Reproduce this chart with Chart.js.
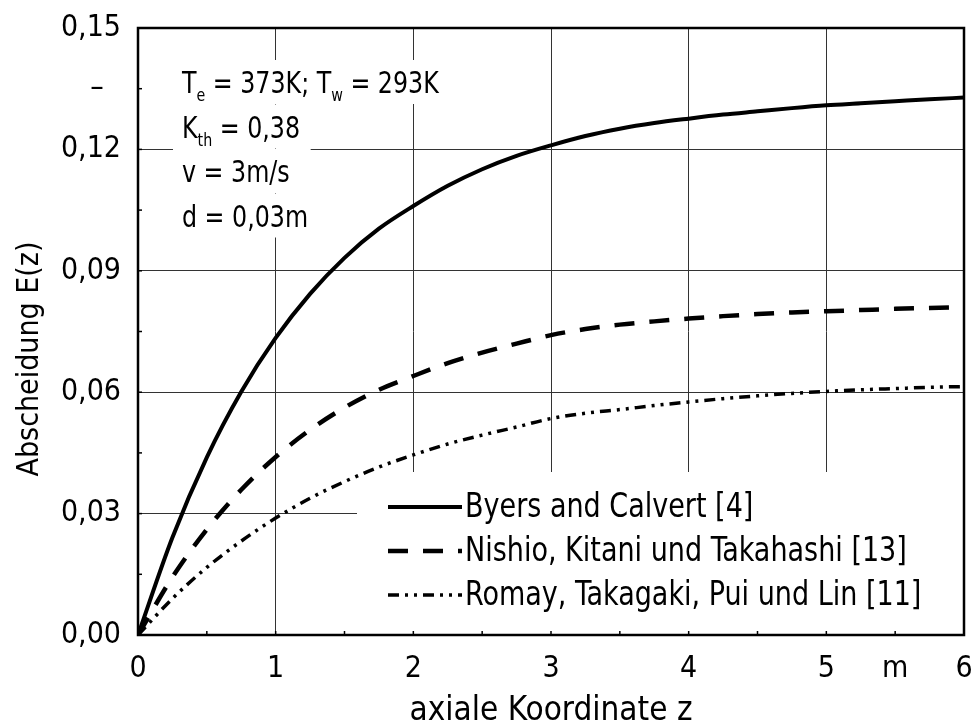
<!DOCTYPE html>
<html lang="de">
<head>
<meta charset="utf-8">
<title>Abscheidung E(z)</title>
<script src="https://cdn.jsdelivr.net/npm/chart.js@4/dist/chart.umd.min.js"></script>
<style>
  html, body { margin: 0; padding: 0; background: #fff; }
  #wrap { width: 975px; height: 728px; }
</style>
</head>
<body>
<div id="wrap"><canvas id="chart" width="975" height="728"></canvas></div>
<script>
// axiale Koordinate z in m
const zValues = [0, 0.25, 0.5, 0.75, 1, 1.25, 1.5, 1.75, 2, 2.25, 2.5, 2.75, 3,
                 3.25, 3.5, 3.75, 4, 4.25, 4.5, 4.75, 5, 5.25, 5.5, 5.75, 6];

// Abscheidung E(z) je Modell
const byersCalvert = [0, 0.0241, 0.0439, 0.0601, 0.0734, 0.0843, 0.0932, 0.1004, 0.1060,
                      0.1110, 0.1151, 0.1184, 0.1210, 0.1233, 0.1251, 0.1265, 0.1276,
                      0.1286, 0.1294, 0.1302, 0.1309, 0.1314, 0.1319, 0.1324, 0.1328];
const nishioKitani = [0, 0.0143, 0.0261, 0.0359, 0.0440, 0.0507, 0.0562, 0.0606, 0.0640,
                      0.0672, 0.0698, 0.0720, 0.0741, 0.0756, 0.0767, 0.0775, 0.0782,
                      0.0788, 0.0793, 0.0797, 0.0800, 0.0803, 0.0806, 0.0808, 0.0810];
const romayTakagaki = [0, 0.0090, 0.0167, 0.0232, 0.0289, 0.0338, 0.0379, 0.0415, 0.0445,
                       0.0472, 0.0494, 0.0514, 0.0535, 0.0548, 0.0557, 0.0567, 0.0576,
                       0.0584, 0.0591, 0.0597, 0.0602, 0.0606, 0.0609, 0.0612, 0.0614];

const seriesLabels = ['Byers and Calvert [4]', 'Nishio, Kitani und Takahashi [13]', 'Romay, Takagaki, Pui und Lin [11]'];

// Achsbeschriftung im 0,5- bzw. 0,015-Raster (leere Einträge = nur Teilstrich)
const xTickLabels = ['0', '', '1', '', '2', '', '3', '', '4', '', '5', 'm', '6'];
const yTickLabels = ['0,00', '', '0,03', '', '0,06', '', '0,09', '', '0,12', '–  ', '0,15'];

const xTitle = 'axiale Koordinate z';
const yTitle = 'Abscheidung E(z)';

const FONT = "'DejaVu Sans Condensed', 'DejaVu Sans', sans-serif";
const FS = 30;

function toPoints(ys) {
    return zValues.map((z, i) => ({ x: z, y: ys[i] }));
}

const styles = [
    { borderWidth: 4, borderDash: [] },
    { borderWidth: 4.5, borderDash: [20, 15] },
    { borderWidth: 3.5, borderDash: [11, 6, 3, 6, 3, 6] }
];

// Text schmal gezogen (Schrift hat keinen schmaleren Schnitt)
function narrowText(ctx, text, x, y, sx) {
    ctx.save();
    ctx.translate(x, y);
    ctx.scale(sx, 1);
    ctx.fillText(text, 0, 0);
    ctx.restore();
    return ctx.measureText(text).width * sx;
}

// Parameterkasten oben links
function drawParams(ctx) {
    const lines = [
        [['T', 0], ['e', 1], [' = 373K; T', 0], ['w', 1], [' = 293K', 0]],
        [['K', 0], ['th', 1], [' = 0,38', 0]],
        [['v = 3m/s', 0]],
        [['d = 0,03m', 0]]
    ];
    const x0 = 182, y0 = 82, step = 44.5, sx = 0.88;
    const big = FS + 'px ' + FONT, small = '18px ' + FONT;

    lines.forEach((parts, li) => {
        const cy = y0 + li * step;
        let w = 0;
        parts.forEach(([t, sub]) => { ctx.font = sub ? small : big; w += ctx.measureText(t).width * sx; });
        ctx.fillStyle = '#fff';
        ctx.fillRect(x0 - 9, cy - 22, w + 30, 44);

        let x = x0;
        ctx.fillStyle = '#000';
        ctx.textBaseline = 'alphabetic';
        ctx.textAlign = 'left';
        parts.forEach(([t, sub]) => {
            ctx.font = sub ? small : big;
            x += narrowText(ctx, t, x, cy + 11 + (sub ? 8 : 0), sx);
        });
    });
}

function drawLegendBox(chart) {
    const ctx = chart.ctx, area = chart.chartArea;
    const left = 357, top = 472;
    ctx.fillStyle = '#fff';
    ctx.fillRect(left, top, area.right - left, area.bottom - top);

    const rows = [507, 551, 595];
    chart.data.datasets.forEach((ds, i) => {
        const y = rows[i];
        ctx.save();
        ctx.strokeStyle = '#000';
        ctx.lineWidth = ds.borderWidth;
        ctx.setLineDash(ds.borderDash);
        ctx.beginPath();
        ctx.moveTo(388, y);
        ctx.lineTo(462, y);
        ctx.stroke();
        ctx.restore();

        ctx.fillStyle = '#000';
        ctx.font = '33px ' + FONT;
        ctx.textAlign = 'left';
        ctx.textBaseline = 'middle';
        narrowText(ctx, ds.label, 465, y + 1, 0.91);
    });
}

function drawTitles(chart) {
    const ctx = chart.ctx, a = chart.chartArea;
    ctx.fillStyle = '#000';
    ctx.textAlign = 'center';
    ctx.textBaseline = 'middle';
    ctx.font = '33px ' + FONT;
    ctx.fillText(xTitle, (a.left + a.right) / 2, 711);

    ctx.font = FS + 'px ' + FONT;
    ctx.save();
    ctx.translate(30, 359);
    ctx.rotate(-Math.PI / 2);
    ctx.fillText(yTitle, 0, 0);
    ctx.restore();
}

const overlayPlugin = {
    id: 'overlay',
    beforeDatasetsDraw(chart) {
        const ctx = chart.ctx;
        ctx.save();
        drawParams(ctx);
        drawLegendBox(chart);
        drawTitles(chart);
        ctx.restore();
    },
    afterDatasetsDraw(chart) {
        const ctx = chart.ctx, a = chart.chartArea;
        const xs = chart.scales.x, ys = chart.scales.y;
        ctx.save();
        ctx.strokeStyle = '#000';
        ctx.lineWidth = 1.5;
        // kurze Teilstriche nach innen
        xs.ticks.forEach(t => {
            const px = xs.getPixelForValue(t.value);
            ctx.beginPath();
            ctx.moveTo(px, a.bottom);
            ctx.lineTo(px, a.bottom - 4);
            ctx.stroke();
        });
        ys.ticks.forEach(t => {
            const py = ys.getPixelForValue(t.value);
            ctx.beginPath();
            ctx.moveTo(a.left, py);
            ctx.lineTo(a.left + 4, py);
            ctx.stroke();
        });
        // Rahmen
        ctx.lineWidth = 2.5;
        ctx.strokeRect(a.left, a.top, a.right - a.left, a.bottom - a.top);
        ctx.restore();
    }
};

const gridColor = (count) => (c) => {
    const i = c.index;
    return (i > 0 && i < count && i % 2 === 0) ? '#333' : 'rgba(0,0,0,0)';
};

new Chart(document.getElementById('chart'), {
    type: 'line',
    data: {
        datasets: [byersCalvert, nishioKitani, romayTakagaki].map((ys, i) => ({
            label: seriesLabels[i],
            data: toPoints(ys),
            borderColor: '#000',
            borderWidth: styles[i].borderWidth,
            borderDash: styles[i].borderDash,
            pointRadius: 0,
            fill: false,
            cubicInterpolationMode: 'monotone'
        }))
    },
    options: {
        responsive: false,
        animation: false,
        layout: { padding: { left: 0, top: 28, right: 11, bottom: 0 } },
        plugins: {
            legend: { display: false },
            tooltip: { enabled: false }
        },
        scales: {
            x: {
                type: 'linear',
                min: 0,
                max: 6,
                afterFit: (s) => { s.height = 93; s.paddingLeft = 0; s.paddingRight = 0; },
                border: { display: false },
                grid: { color: gridColor(12), lineWidth: 1, drawTicks: false },
                ticks: {
                    stepSize: 0.5,
                    autoSkip: false,
                    maxRotation: 0,
                    padding: 16,
                    color: '#000',
                    font: { family: FONT, size: FS },
                    callback: (v, i) => xTickLabels[i]
                }
            },
            y: {
                min: 0,
                max: 0.15,
                afterFit: (s) => { s.width = 138; s.paddingTop = 0; s.paddingBottom = 0; },
                border: { display: false },
                grid: { color: gridColor(10), lineWidth: 1, drawTicks: false },
                ticks: {
                    stepSize: 0.015,
                    autoSkip: false,
                    padding: 17,
                    color: '#000',
                    font: { family: FONT, size: FS },
                    callback: (v, i) => yTickLabels[i]
                }
            }
        }
    },
    plugins: [overlayPlugin]
});
</script>
</body>
</html>
